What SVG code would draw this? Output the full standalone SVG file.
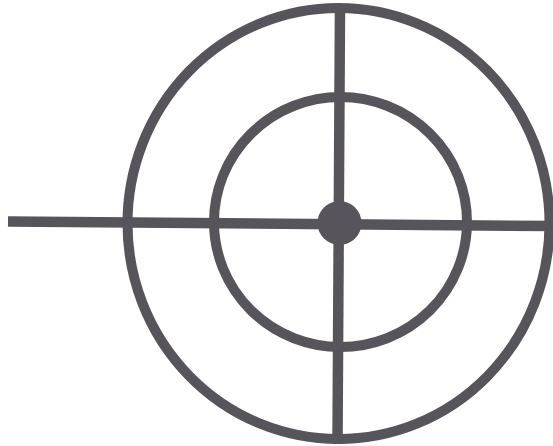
<svg xmlns="http://www.w3.org/2000/svg" width="553" height="446" viewBox="0 0 553 446">
  <style>
    .ring { fill: none; stroke: #57555b; stroke-width: 10; }
    .hair { stroke: #57555b; stroke-width: 10.5; stroke-linecap: butt; }
    .dot { fill: #57555b; }
  </style>
  <rect width="553" height="446" fill="#ffffff"/>
  <g id="outer-ring">
    <ellipse class="ring" cx="338.5" cy="223.5" rx="211" ry="215.5"/>
  </g>
  <g id="inner-ring">
    <ellipse class="ring" cx="340.5" cy="222" rx="126.5" ry="125"/>
  </g>
  <g id="connectors">
    <line class="hair" x1="8" y1="221.5" x2="553" y2="226"/>
    <line class="hair" x1="340" y1="5" x2="337.5" y2="444"/>
  </g>
  <g id="center-dot">
    <circle class="dot" cx="339.5" cy="223" r="22"/>
  </g>
</svg>
